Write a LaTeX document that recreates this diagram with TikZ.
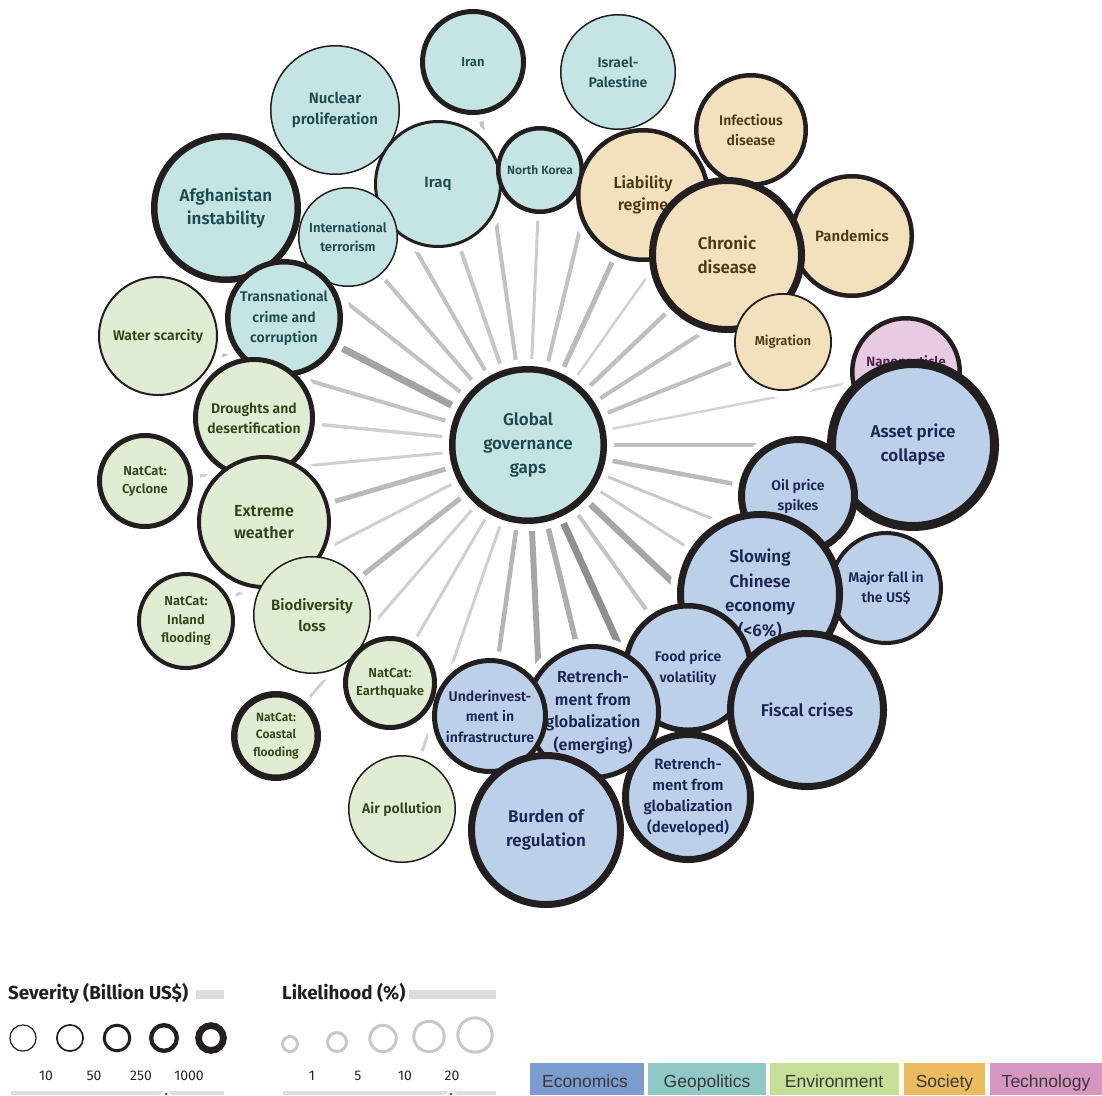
\documentclass[tikz,border=0pt]{standalone}
\usepackage{fontspec}
\setmainfont{Fira Sans}
\newfontfamily\lab{Fira Sans SemiBold}
\newfontfamily\leg{Liberation Sans}
\pgfdeclarelayer{spokes}
\pgfdeclarelayer{halo}
\pgfsetlayers{spokes,halo,main}
\definecolor{ink}{HTML}{231F20}
\definecolor{geoF}{HTML}{C5E4E4}\definecolor{geoT}{HTML}{1D4B4C}
\definecolor{socF}{HTML}{F3E0BD}\definecolor{socT}{HTML}{4C3A14}
\definecolor{envF}{HTML}{E0EDD3}\definecolor{envT}{HTML}{30431B}
\definecolor{ecoF}{HTML}{BDD0EA}\definecolor{ecoT}{HTML}{1B2453}
\definecolor{tecF}{HTML}{E8CAE2}\definecolor{tecT}{HTML}{4B1E47}
\definecolor{ecoK}{HTML}{7A9CCF}\definecolor{geoK}{HTML}{8FC8C4}
\definecolor{envK}{HTML}{C5DE98}\definecolor{socK}{HTML}{EABC5F}
\definecolor{tecK}{HTML}{D696C0}
\definecolor{barG}{HTML}{DEDEDE}
\definecolor{likG}{HTML}{C8C8C8}
\tikzset{
  bubble/.style={circle, draw=ink, inner sep=0pt, outer sep=0pt},
  lbl/.style={align=center, inner sep=0pt},
  spoke/.style={line cap=round},
  sevc/.style={circle, draw=ink, fill=white, inner sep=0pt},
  likc/.style={circle, draw=likG, line width=3pt, inner sep=0pt},
  num/.style={font=\fontsize{14}{16}\selectfont, text=black!85, inner sep=0pt, anchor=base},
  cat/.style={inner sep=0pt, anchor=base, font=\leg\fontsize{17.5}{20}\selectfont, text=black!78},
  head/.style={anchor=base west, inner sep=0pt, font=\bfseries\fontsize{18.8}{20}\selectfont, text=black!88},
}
% name, x, y, outer radius, line width, category, font size, skip, text
\newcommand\bub[9]{%
  \begin{pgfonlayer}{halo}\fill[white] (#2,#3) circle[radius={(#4+7)*1pt}];\end{pgfonlayer}
  \node[bubble, fill=#6F, line width=#5pt, minimum size={(2*#4-#5)*1pt}] (#1) at (#2,#3) {};
  \node[lbl, text=#6T, font=\lab\fontsize{#7}{#8}\selectfont] (#1t) at (#1.center) {#9};
}
\newcommand\spk[3]{%
  \begin{pgfonlayer}{spokes}\draw[spoke, line width=#2pt, draw=#3] (gg.center) -- (#1.center);\end{pgfonlayer}}
\begin{document}
\begin{tikzpicture}[x=1pt,y=-1pt]
\useasboundingbox (0,0) rectangle (1102,1095);
% ---- bubbles
\bub{gg}{528}{445}{79}{6.5}{geo}{17}{24}{Global\\governance\\gaps}
\bub{nuc}{335}{110}{65}{1.5}{geo}{15}{21}{Nuclear\\proliferation}
\bub{iran}{473}{62}{53}{5}{geo}{13}{16}{Iran}
\bub{israel}{618}{72}{58}{1.5}{geo}{14}{20}{Israel-\\Palestine}
\bub{iraq}{438}{184}{64}{3}{geo}{15}{18}{Iraq}
\bub{nk}{540}{170}{44}{4.5}{geo}{12}{14}{North Korea}
\bub{afg}{226}{208}{75}{6.5}{geo}{17}{23}{Afghanistan\\instability}
\bub{intl}{348}{237}{50}{1.5}{geo}{13}{19}{International\\terrorism}
\bub{trans}{284}{318}{59}{5.5}{geo}{14}{20.5}{Transnational\\crime and\\corruption}
\bub{inf}{751}{130}{57}{4.5}{soc}{14}{20}{Infectious\\disease}
\bub{liab}{643}{195}{67}{4.5}{soc}{16}{22}{Liability\\regime}
\bub{pand}{852}{236}{62}{4.5}{soc}{15}{18}{Pandemics}
\bub{chron}{727}{255}{78}{7}{soc}{17}{24}{Chronic\\disease}
\bub{migr}{783}{342}{49}{1.8}{soc}{13}{16}{Migration}
\bub{water}{158}{336}{60}{2}{env}{14}{17}{Water scarcity}
\bub{drought}{254}{418}{61}{5}{env}{14}{20}{Droughts and\\desertification}
\bub{cyc}{145}{481}{48}{5}{env}{13}{18}{NatCat:\\Cyclone}
\bub{extreme}{264}{522}{67}{4}{env}{16}{22}{Extreme\\weather}
\bub{inland}{186}{621}{49}{4}{env}{13}{18.5}{NatCat:\\Inland\\flooding}
\bub{bio}{312}{615}{59}{1.5}{env}{15}{21}{Biodiversity\\loss}
\bub{eq}{390}{683}{47}{5}{env}{13}{18}{NatCat:\\Earthquake}
\bub{coastal}{276}{736}{45}{6.5}{env}{12}{17.5}{NatCat:\\Coastal\\flooding}
\bub{air}{402}{809}{54}{1.5}{env}{14}{17}{Air pollution}
\bub{nano}{906}{372}{56}{4.5}{tec}{13.5}{19}{Nanoparticle\\toxicity}
\bub{asset}{913}{445}{86}{9}{eco}{17}{24}{Asset price\\collapse}
\bub{oil}{798}{496}{60}{7}{eco}{14}{20}{Oil price\\spikes}
\bub{major}{886}{588}{57}{4}{eco}{14}{20}{Major fall in\\the US\$}
\bub{slow}{760}{594}{83}{7}{eco}{17}{24.5}{Slowing\\Chinese\\economy\\(<6\%)}
\bub{food}{688}{668}{65}{5.5}{eco}{14}{21}{Food price\\volatility}
\bub{fiscal}{807}{710}{80}{7}{eco}{17}{22}{Fiscal crises}
\bub{retem}{593}{712}{68}{5}{eco}{16}{22.5}{Retrench-\\ment from\\globalization\\(emerging)}
\bub{underinv}{490}{716}{58}{5}{eco}{14}{20.5}{Underinvest-\\ment in\\infrastructure}
\bub{retdev}{688}{797}{66}{7}{eco}{15}{21.3}{Retrench-\\ment from\\globalization\\(developed)}
\bub{burden}{546}{830}{78}{7}{eco}{17}{24}{Burden of\\regulation}
% ---- spokes
\spk{iran}{4}{black!24}
\spk{israel}{4}{black!24}
\spk{nuc}{4}{black!24}
\spk{iraq}{4}{black!22}
\spk{nk}{3}{black!20}
\spk{afg}{4}{black!24}
\spk{intl}{4}{black!24}
\spk{trans}{7}{black!36}
\spk{water}{4}{black!23}
\spk{drought}{3.5}{black!19}
\spk{cyc}{3}{black!19}
\spk{extreme}{5}{black!27}
\spk{inland}{3}{black!19}
\spk{bio}{5}{black!28}
\spk{coastal}{3}{black!19}
\spk{eq}{3}{black!19}
\spk{air}{3}{black!19}
\spk{underinv}{4.5}{black!29}
\spk{burden}{6}{black!35}
\spk{retem}{5.5}{black!32}
\spk{retdev}{7}{black!44}
\spk{food}{4}{black!23}
\spk{fiscal}{6.5}{black!35}
\spk{slow}{3}{black!20}
\spk{major}{3}{black!21}
\spk{oil}{4.5}{black!27}
\spk{asset}{4.5}{black!25}
\spk{nano}{2.5}{black!17}
\spk{migr}{4}{black!25}
\spk{pand}{4}{black!25}
\spk{chron}{4.5}{black!25}
\spk{inf}{2.5}{black!18}
\spk{liab}{5}{black!27}
% ---- severity legend
\node[head] (sevh) at (8,999.5) {Severity (Billion US\$)};
\fill[barG] (196,989.5) rectangle (224,998.5);
\node[sevc, line width=1.2pt, minimum size=26.2pt] (s1) at (23,1038) {};
\node[sevc, line width=1.7pt, minimum size=26.3pt] (s2) at (70,1038) {};
\node[sevc, line width=3pt, minimum size=25.6pt] (s3) at (117,1038) {};
\node[sevc, line width=4.3pt, minimum size=25.7pt] (s4) at (164,1038) {};
\node[sevc, line width=6.7pt, minimum size=24.9pt] (s5) at (211,1038) {};
\node[num] (n10) at (46,1080.5) {10};
\node[num] (n50) at (94,1080.5) {50};
\node[num] (n250) at (141,1080.5) {250};
\node[num] (n1000) at (189,1080.5) {1000};
\fill[barG] (11,1091) rectangle (224,1095);
\fill[white] (160,1095) -- (166,1088.5) -- (172,1095) -- cycle;
\fill[red] (166,1094) circle[radius=1.3pt];
% ---- likelihood legend
\node[head] (likh) at (282,999.5) {Likelihood (\%)};
\fill[barG] (409,989.5) rectangle (496,998.5);
\node[likc, minimum size=15pt] (l1) at (290,1044) {};
\node[likc, minimum size=19pt] (l2) at (337,1042) {};
\node[likc, minimum size=26.4pt] (l3) at (383,1038.5) {};
\node[likc, minimum size=30.4pt] (l4) at (429,1036.5) {};
\node[likc, minimum size=34.4pt] (l5) at (475,1035) {};
\node[num] (m1) at (312,1080.5) {1};
\node[num] (m5) at (358,1080.5) {5};
\node[num] (m10) at (405,1080.5) {10};
\node[num] (m20) at (452,1080.5) {20};
\fill[barG] (283,1091) rectangle (496,1095);
\fill[white] (445,1095) -- (451,1088.5) -- (457,1095) -- cycle;
\fill[red] (451,1094) circle[radius=1.3pt];
% ---- category keys
\fill[ecoK] (530,1063) rectangle (644,1095);
\fill[geoK] (648,1063) rectangle (766,1095);
\fill[envK] (770,1063) rectangle (898.5,1095);
\fill[socK] (904,1063) rectangle (985,1095);
\fill[tecK] (990,1063) rectangle (1102,1095);
\node[cat] (keco) at (585,1087.5) {Economics};
\node[cat] (kgeo) at (707,1087.5) {Geopolitics};
\node[cat] (kenv) at (834,1087.5) {Environment};
\node[cat] (ksoc) at (944.5,1087.5) {Society};
\node[cat] (ktec) at (1046,1087.5) {Technology};
\end{tikzpicture}
\end{document}
